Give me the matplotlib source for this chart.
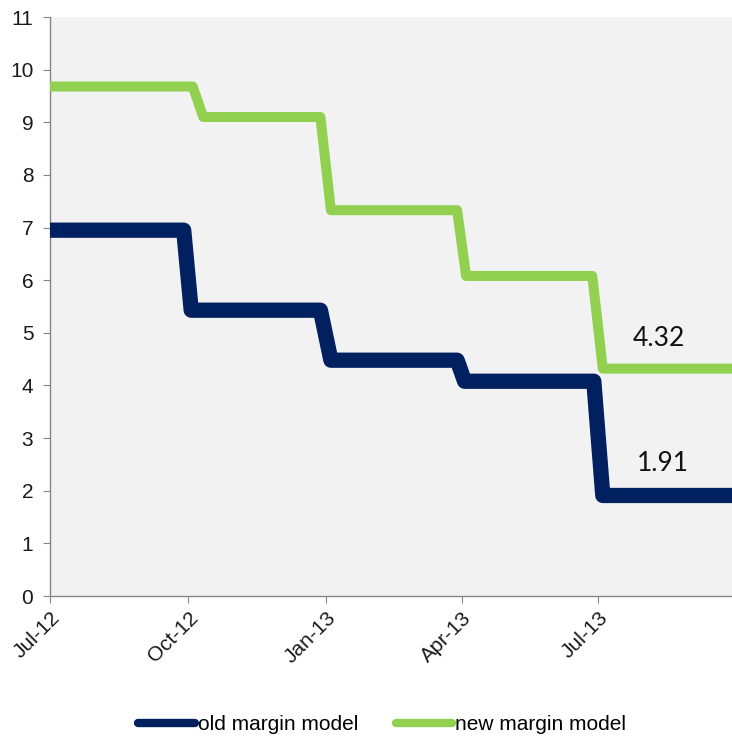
import matplotlib
matplotlib.use("Agg")
import matplotlib.pyplot as plt
from matplotlib.lines import Line2D
import pandas as pd

# step levels
old_levels = [6.95, 5.43, 4.48, 4.08, 1.91]
new_levels = [9.68, 9.10, 7.33, 6.08, 4.32]

# each drop starts / ends on these dates
old_drop_start = ["2012-09-28", "2012-12-28", "2013-03-29", "2013-06-28"]
old_drop_end = ["2012-10-03", "2013-01-04", "2013-04-03", "2013-07-04"]
new_drop_start = ["2012-10-04", "2012-12-28", "2013-03-29", "2013-06-27"]
new_drop_end = ["2012-10-11", "2013-01-04", "2013-04-04", "2013-07-04"]

series_start = "2012-07-01"
series_end = "2013-09-28"

tick_dates = ["2012-07-01", "2012-10-01", "2013-01-01", "2013-04-01", "2013-07-01"]
tick_labels = ["Jul-12", "Oct-12", "Jan-13", "Apr-13", "Jul-13"]

labels = ["old margin model", "new margin model"]
colors = ["#002060", "#92D050"]


def build_steps(levels, starts, ends):
    dates = [series_start]
    vals = [levels[0]]
    for i, (s, e) in enumerate(zip(starts, ends)):
        dates += [s, e]
        vals += [levels[i], levels[i + 1]]
    dates.append(series_end)
    vals.append(levels[-1])
    return pd.to_datetime(dates), vals


fig = plt.figure(figsize=(7.32, 7.36), dpi=100)
ax = fig.add_axes([0.0683, 0.1902, 0.9317, 0.7867])
ax.set_facecolor("#f2f2f2")

x_old, y_old = build_steps(old_levels, old_drop_start, old_drop_end)
x_new, y_new = build_steps(new_levels, new_drop_start, new_drop_end)

ax.plot(x_old, y_old, color=colors[0], lw=11, solid_joinstyle="round", solid_capstyle="round", zorder=3)
ax.plot(x_new, y_new, color=colors[1], lw=7.2, solid_joinstyle="round", solid_capstyle="round", zorder=3)

ax.text(pd.Timestamp("2013-08-10"), new_levels[-1] + 0.57, f"{new_levels[-1]:.2f}",
        fontsize=19, family="Lato", ha="center", va="center", color="#111111")
ax.text(pd.Timestamp("2013-08-13"), old_levels[-1] + 0.60, f"{old_levels[-1]:.2f}",
        fontsize=19, family="Lato", ha="center", va="center", color="#111111")

ax.set_xlim(pd.Timestamp(series_start), pd.Timestamp(series_end))
ax.set_ylim(0, 11)
ax.set_yticks(range(0, 12))
ax.set_xticks(pd.to_datetime(tick_dates))
ax.set_xticklabels(tick_labels, rotation=45, ha="right", rotation_mode="anchor")

for side in ["top", "right"]:
    ax.spines[side].set_visible(False)
for side in ["left", "bottom"]:
    ax.spines[side].set_color("#868686")
    ax.spines[side].set_linewidth(1.0)

ax.tick_params(axis="y", length=5, color="#868686", labelsize=15, pad=7, labelcolor="#1a1a1a")
ax.tick_params(axis="x", length=5, color="#868686", labelsize=15, pad=4, labelcolor="#1a1a1a")
for lbl in ax.get_xticklabels() + ax.get_yticklabels():
    lbl.set_family("Liberation Sans")

handles = [Line2D([], [], color=c, lw=6, solid_capstyle="round") for c in colors]
fig.legend(handles, labels, loc="lower center", bbox_to_anchor=(0.522, -0.023), ncol=2, frameon=False,
           prop={"family": "Liberation Sans", "size": 15}, handlelength=2.7, handletextpad=0.15,
           columnspacing=1.8)

fig.savefig("out.png", dpi=100)
